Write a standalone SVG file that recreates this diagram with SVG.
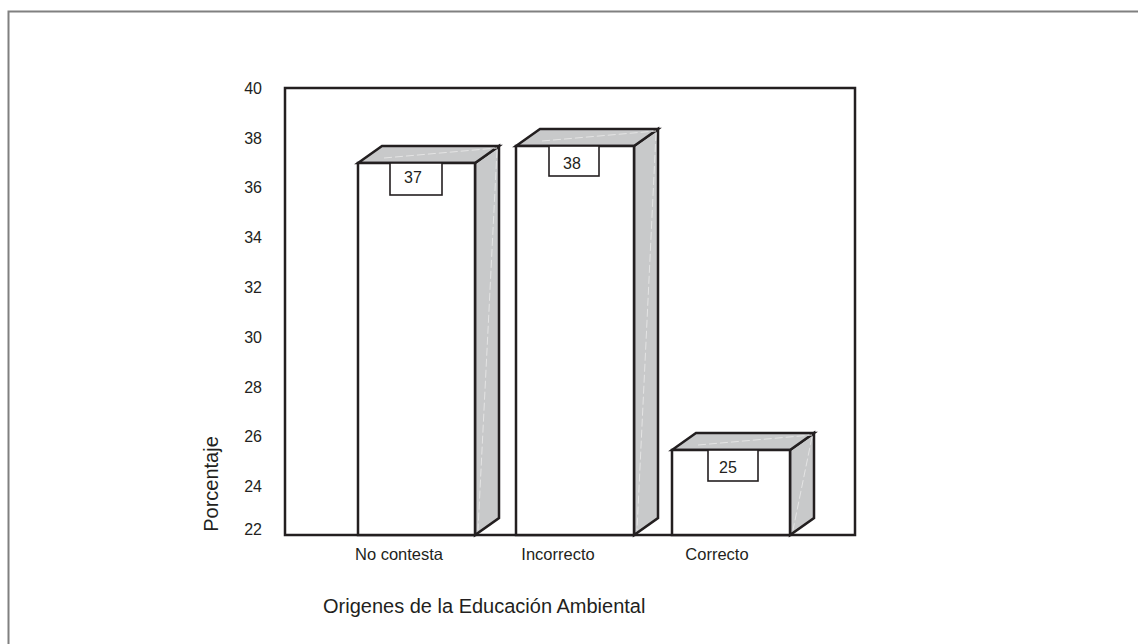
<svg xmlns="http://www.w3.org/2000/svg" width="1138" height="644" viewBox="0 0 1138 644">
<style>
.t{font-family:"Liberation Sans",Arial,sans-serif;fill:#231f20}
.tick{font-size:16px;text-anchor:end}
.cat{font-size:16.5px;text-anchor:middle}
.num{font-size:16px;text-anchor:middle}
.ttl{font-size:20px}
.face{fill:#fff;stroke:#231f20;stroke-width:2.5;stroke-linejoin:miter}
.side{fill:#c8c9ca;stroke:#231f20;stroke-width:2.5;stroke-linejoin:miter}
.hl{fill:none;stroke:#e4e4e4;stroke-width:1;stroke-dasharray:8 3}
.lbl{fill:#fff;stroke:#231f20;stroke-width:1.6}
</style>
<rect x="0" y="0" width="1138" height="644" fill="#fff"/>
<path d="M8.5 650 V11.5 H1140" fill="none" stroke="#808080" stroke-width="2"/>
<g id="frame">
<rect x="285" y="88" width="570" height="447" fill="none" stroke="#231f20" stroke-width="2.5"/>
</g>
<g id="axis-y" class="t tick">
<text x="262" y="94">40</text>
<text x="262" y="144">38</text>
<text x="262" y="193">36</text>
<text x="262" y="243">34</text>
<text x="262" y="293">32</text>
<text x="262" y="343">30</text>
<text x="262" y="393">28</text>
<text x="262" y="442">26</text>
<text x="262" y="492">24</text>
<text x="262" y="535">22</text>
</g>
<text class="t ttl" transform="translate(218,484) rotate(-90)" text-anchor="middle">Porcentaje</text>
<g id="bar-nocontesta">
<polygon class="side" points="475,163 499,146 499,518 475,535"/>
<polygon class="side" points="358,163 382,146 499,146 475,163"/>
<line class="hl" x1="384" y1="158" x2="497" y2="148"/>
<line class="hl" x1="497" y1="150" x2="478" y2="530"/>
<rect class="face" x="358" y="163" width="117" height="372"/>
<rect class="lbl" x="390" y="163" width="52" height="32"/>
<text class="t num" x="413" y="183">37</text>
</g>
<g id="bar-incorrecto">
<polygon class="side" points="634,146 658,129 658,518 634,535"/>
<polygon class="side" points="516,146 540,129 658,129 634,146"/>
<line class="hl" x1="542" y1="141" x2="656" y2="131"/>
<line class="hl" x1="656" y1="133" x2="637" y2="530"/>
<rect class="face" x="516" y="146" width="118" height="389"/>
<rect class="lbl" x="549" y="146" width="50" height="30"/>
<text class="t num" x="572" y="169">38</text>
</g>
<g id="bar-correcto">
<polygon class="side" points="790,450 814,433 814,518 790,535"/>
<polygon class="side" points="672,450 696,433 814,433 790,450"/>
<line class="hl" x1="698" y1="445" x2="812" y2="435"/>
<line class="hl" x1="812" y1="437" x2="793" y2="530"/>
<rect class="face" x="672" y="450" width="118" height="85"/>
<rect class="lbl" x="708" y="450" width="50" height="31"/>
<text class="t num" x="728" y="473">25</text>
</g>
<g id="axis-x" class="t cat">
<text x="399" y="560">No contesta</text>
<text x="558" y="560">Incorrecto</text>
<text x="717" y="560">Correcto</text>
</g>
<text class="t ttl" x="323" y="613">Origenes de la Educación Ambiental</text>
</svg>
